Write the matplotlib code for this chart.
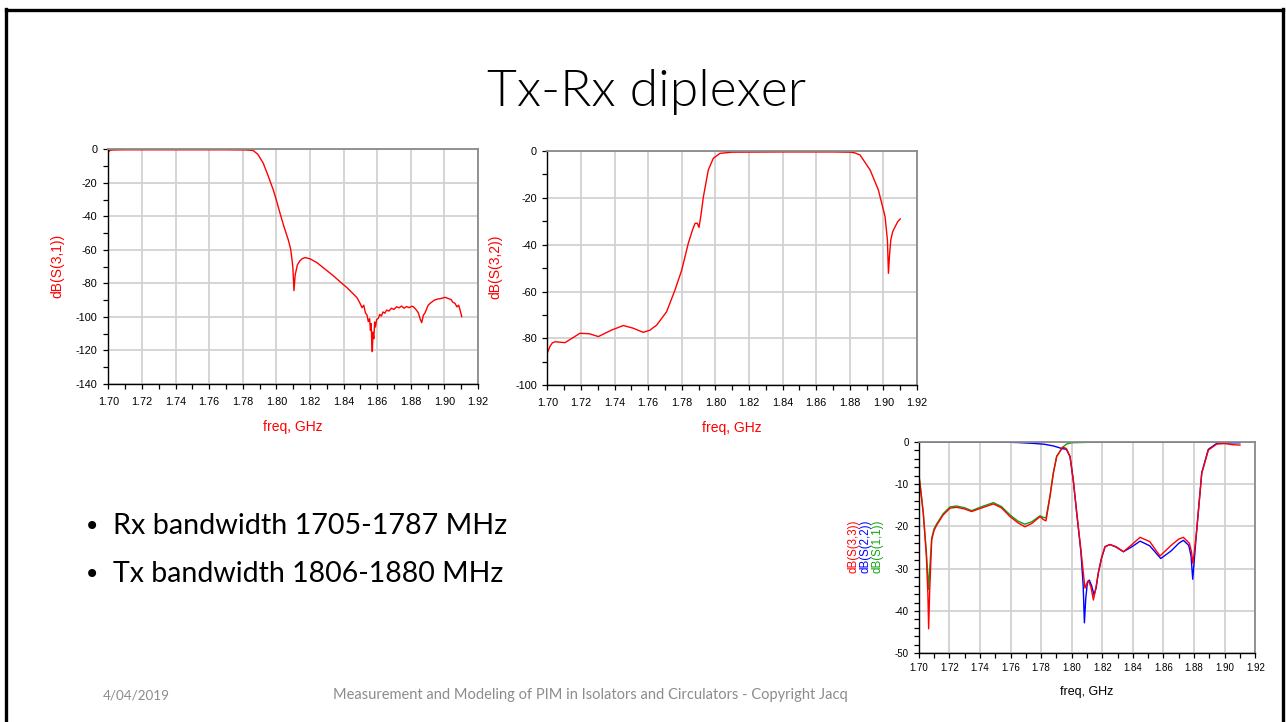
import matplotlib
matplotlib.use("Agg")
import matplotlib.pyplot as plt
from matplotlib.ticker import MultipleLocator, FormatStrFormatter
from matplotlib.lines import Line2D

# ---------------- data ----------------
title = "Tx-Rx diplexer"
bullets = ["Rx bandwidth 1705-1787 MHz", "Tx bandwidth 1806-1880 MHz"]
footer_date = "4/04/2019"
footer_text = "Measurement and Modeling of PIM in Isolators and Circulators - Copyright Jacq"

# Chart 1: dB(S(3,1))
f31 = [1.700, 1.701, 1.703, 1.710, 1.740, 1.770, 1.782, 1.785, 1.7863, 1.789, 1.7922,
       1.795, 1.7982, 1.8002, 1.8022, 1.8045, 1.8071, 1.8085, 1.8091, 1.8098, 1.8105,
       1.8112, 1.8125, 1.8140, 1.8155, 1.8171, 1.8200, 1.8240, 1.8290, 1.8340, 1.8379,
       1.8420, 1.8460, 1.8480, 1.8498, 1.8510, 1.8520, 1.8530, 1.8540, 1.8547, 1.8555,
       1.8560, 1.8564, 1.8568, 1.8571, 1.8575, 1.8580, 1.8585, 1.8590, 1.8597, 1.8607,
       1.8615, 1.8625, 1.8635, 1.8645, 1.8657, 1.8670, 1.8685, 1.8700, 1.8716, 1.8730,
       1.8745, 1.8760, 1.8775, 1.8790, 1.8805, 1.8815, 1.8830, 1.8845, 1.8855, 1.8865,
       1.8875, 1.8885, 1.8904, 1.8920, 1.8940, 1.8960, 1.8980, 1.9004, 1.9020, 1.9040,
       1.9050, 1.9063, 1.9075, 1.9085, 1.9095, 1.9103]
s31 = [-1.8, -0.6, -0.4, -0.3, -0.3, -0.3, -0.4, -0.6, -0.8, -3.0, -8.3,
       -15.5, -24.3, -31.0, -38.2, -46.0, -54.0, -59.5, -64.0, -70.0, -84.3,
       -75.0, -69.0, -66.5, -65.2, -64.6, -65.3, -67.5, -71.5, -75.5, -79.0,
       -82.5, -86.5, -88.5, -91.9, -94.5, -93.0, -97.5, -99.0, -102.8, -101.0,
       -108.0, -104.0, -115.0, -120.7, -109.0, -113.0, -103.0, -106.0, -101.5, -100.8,
       -98.5, -99.5, -97.0, -97.8, -95.9, -96.5, -94.8, -95.5, -93.9, -94.6,
       -93.5, -94.8, -93.8, -94.5, -93.6, -93.9, -95.5, -97.5, -101.0, -103.4,
       -99.0, -97.5, -92.9, -91.5, -90.0, -89.3, -89.0, -88.3, -88.9, -89.6,
       -91.2, -91.9, -94.0, -93.0, -96.5, -99.8]

# Chart 2: dB(S(3,2))
f32 = [1.700, 1.7015, 1.7030, 1.7046, 1.7075, 1.7105, 1.7150, 1.7194, 1.7250, 1.7304,
       1.7380, 1.7452, 1.7510, 1.7571, 1.7610, 1.7651, 1.7710, 1.7760, 1.7800, 1.7839,
       1.7865, 1.7879, 1.7892, 1.7903, 1.7915, 1.7929, 1.7958, 1.7988, 1.8028, 1.8100,
       1.8400, 1.8700, 1.8802, 1.8830, 1.8861, 1.8921, 1.8970, 1.9010, 1.9024, 1.9030,
       1.9037, 1.9044, 1.9055, 1.9070, 1.9085, 1.9100]
s32 = [-86.3, -83.5, -81.9, -81.4, -81.6, -81.8, -79.8, -77.8, -78.0, -79.2,
       -76.5, -74.5, -75.6, -77.4, -76.5, -74.3, -68.6, -59.3, -50.8, -39.4,
       -33.5, -30.9, -30.8, -32.6, -27.0, -19.5, -8.1, -3.1, -1.0, -0.5,
       -0.4, -0.4, -0.5, -0.8, -1.7, -8.1, -16.6, -28.0, -38.0, -52.2,
       -44.0, -38.0, -34.5, -32.3, -30.2, -29.0]

# Chart 3: dB(S(3,3)) red
f33 = [1.7000, 1.7015, 1.7030, 1.7050, 1.7060, 1.7065, 1.7072, 1.7085, 1.7100, 1.7118,
       1.7160, 1.7205, 1.7248, 1.7300, 1.7346, 1.7400, 1.7488, 1.7540, 1.7597, 1.7650,
       1.7695, 1.7740, 1.7793, 1.7815, 1.7832, 1.7858, 1.7880, 1.7902, 1.7941, 1.7965,
       1.7989, 1.8010, 1.8033, 1.8060, 1.8081, 1.8087, 1.8098, 1.8109, 1.8125, 1.8142,
       1.8158, 1.8174, 1.8195, 1.8218, 1.8250, 1.8290, 1.8338, 1.8390, 1.8447, 1.8510,
       1.8577, 1.8650, 1.8700, 1.8730, 1.8769, 1.8783, 1.8791, 1.8800, 1.8817, 1.8850,
       1.8893, 1.8948, 1.9000, 1.9050, 1.9100]
s33 = [-7.5, -12.0, -16.9, -27.0, -36.0, -44.2, -35.0, -23.2, -21.0, -19.7,
       -17.3, -15.7, -15.5, -15.9, -16.5, -15.8, -14.7, -15.6, -17.7, -19.2,
       -20.1, -19.3, -17.7, -18.4, -18.7, -13.0, -7.5, -3.5, -1.3, -1.6,
       -3.5, -9.0, -16.9, -25.5, -32.7, -34.6, -33.6, -32.9, -34.2, -37.4,
       -34.5, -31.0, -27.5, -24.8, -24.3, -24.8, -26.0, -24.4, -22.6, -23.6,
       -27.0, -24.5, -23.0, -22.6, -24.0, -26.0, -28.7, -26.5, -20.9, -7.5,
       -2.0, -0.55, -0.45, -0.7, -0.8]

# Chart 3: dB(S(2,2)) blue
f22 = [1.7000, 1.7400, 1.7575, 1.7650, 1.7750, 1.7820, 1.7880, 1.7935, 1.7965, 1.7989,
       1.8010, 1.8033, 1.8060, 1.8075, 1.8083, 1.8092, 1.8103, 1.8115, 1.8130, 1.8146,
       1.8160, 1.8174, 1.8195, 1.8218, 1.8250, 1.8290, 1.8338, 1.8390, 1.8447, 1.8510,
       1.8582, 1.8650, 1.8700, 1.8730, 1.8765, 1.8780, 1.8791, 1.8800, 1.8817, 1.8850,
       1.8893, 1.8948, 1.9000, 1.9100]
s22 = [-0.1, -0.1, -0.12, -0.2, -0.4, -0.6, -1.0, -1.6, -1.8, -3.5,
       -9.0, -16.9, -26.0, -34.0, -42.8, -37.0, -33.1, -32.7, -34.0, -36.2,
       -34.5, -31.0, -27.5, -24.8, -24.3, -24.9, -26.0, -24.9, -23.5, -24.6,
       -27.6, -25.8, -24.0, -23.3, -24.5, -27.0, -32.5, -28.5, -20.9, -7.3,
       -1.8, -0.4, -0.3, -0.25]

# Chart 3: dB(S(1,1)) green
f11 = [1.7000, 1.7015, 1.7030, 1.7050, 1.7060, 1.7065, 1.7072, 1.7085, 1.7100, 1.7118,
       1.7160, 1.7205, 1.7248, 1.7300, 1.7346, 1.7400, 1.7488, 1.7540, 1.7597, 1.7650,
       1.7695, 1.7740, 1.7793, 1.7815, 1.7832, 1.7858, 1.7880, 1.7902, 1.7941, 1.7967,
       1.8000, 1.8100, 1.9100]
s11 = [-7.5, -12.0, -16.9, -26.0, -32.0, -34.9, -30.0, -22.8, -20.6, -19.4,
       -17.0, -15.4, -15.2, -15.6, -16.3, -15.5, -14.4, -15.3, -17.3, -18.8,
       -19.5, -18.9, -17.5, -17.9, -18.0, -12.8, -7.3, -3.4, -1.3, -0.55,
       -0.25, -0.15, -0.12]

# ---------------- figure ----------------
W, H = 1286, 722
fig = plt.figure(figsize=(W / 100, H / 100), dpi=100)
fig.patch.set_facecolor("white")

RED = "#ff0000"
BLUE = "#0000ff"
GREEN = "#12a012"


def ax_px(l, t, r, b):
    return fig.add_axes([l / W, 1 - b / H, (r - l) / W, (b - t) / H])


def fx(x):
    return x / W


def fy(y):
    return 1 - y / H


def style(ax, ylo, yhi, ymaj, ymin, fs, xpad, ypad):
    ax.set_xlim(1.70, 1.92)
    ax.set_ylim(ylo, yhi)
    ax.xaxis.set_major_locator(MultipleLocator(0.02))
    ax.xaxis.set_minor_locator(MultipleLocator(0.01))
    ax.yaxis.set_major_locator(MultipleLocator(ymaj))
    ax.yaxis.set_minor_locator(MultipleLocator(ymin))
    ax.xaxis.set_major_formatter(FormatStrFormatter("%.2f"))
    ax.yaxis.set_major_formatter(FormatStrFormatter("%d"))
    ax.grid(True, which="major", color="#d2d2d2", lw=1.3)
    ax.set_axisbelow(True)
    ax.tick_params(which="both", direction="out", length=3.3, width=0.9,
                   labelsize=fs, colors="black",
                   labelfontfamily="Liberation Sans")
    ax.tick_params(axis="x", which="both", pad=xpad)
    ax.tick_params(axis="y", which="both", pad=ypad)
    for s in ("left", "bottom"):
        ax.spines[s].set_color("black")
        ax.spines[s].set_linewidth(1.0)
    for s in ("top", "right"):
        ax.spines[s].set_color("#8a8a8a")
        ax.spines[s].set_linewidth(1.3)
    ax.set_facecolor("white")


# Chart 1
ax1 = ax_px(108.3, 149.3, 478, 384)
style(ax1, -140, 0, 20, 10, 7.8, 5.8, 4.6)
ax1.plot(f31, s31, color=RED, lw=1.0)
fig.text(fx(57), fy(266), "dB(S(3,1))", rotation=90, color=RED, fontsize=10,
         family="Liberation Sans", ha="center", va="center")
fig.text(fx(293), fy(427), "freq, GHz", color=RED, fontsize=10,
         family="Liberation Sans", ha="center", va="center")

# Chart 2
ax2 = ax_px(547.3, 151, 917, 385.3)
style(ax2, -100, 0, 20, 10, 7.8, 5.8, 4.2)
ax2.plot(f32, s32, color=RED, lw=1.0)
fig.text(fx(495), fy(267), "dB(S(3,2))", rotation=90, color=RED, fontsize=10,
         family="Liberation Sans", ha="center", va="center")
fig.text(fx(732), fy(428), "freq, GHz", color=RED, fontsize=10,
         family="Liberation Sans", ha="center", va="center")

# Chart 3
ax3 = ax_px(918.7, 441.7, 1255.3, 653.3)
style(ax3, -50, 0, 10, 2, 7.0, 3.7, 4.0)
ax3.plot(f11, s11, color=GREEN, lw=1.0)
ax3.plot(f22, s22, color=BLUE, lw=1.0)
ax3.plot(f33, s33, color=RED, lw=1.0)
for xx, txt, col in [(853, "dB(S(3,3))", RED), (865, "dB(S(2,2))", BLUE),
                     (877, "dB(S(1,1))", GREEN)]:
    fig.text(fx(xx), fy(546), txt, rotation=90, color=col, fontsize=8.3,
             family="Liberation Sans", ha="center", va="center")
fig.text(fx(1087), fy(692), "freq, GHz", color="black", fontsize=9,
         family="Liberation Sans", ha="center", va="center")

# ---------------- slide text ----------------
renderer = fig.canvas.get_renderer()


def fit_text(x0, x1, yc, s, fs, **kw):
    t = fig.text(fx(x0), fy(yc), s, fontsize=fs, ha="left", va="center", **kw)
    w = t.get_window_extent(renderer=renderer).width
    t.set_fontsize(fs * (x1 - x0) / w)
    return t


fit_text(487, 805, 92, title, 40, family="Lato", weight=320, color="black")
fig.text(fx(92), fy(527), "\u2022", fontsize=20, family="DejaVu Sans",
         ha="center", va="center", color="black")
fig.text(fx(92), fy(575), "\u2022", fontsize=20, family="DejaVu Sans",
         ha="center", va="center", color="black")
fit_text(113, 507, 526, bullets[0], 22, family="Lato", color="black")
fit_text(113, 503, 574, bullets[1], 22, family="Lato", color="black")
fit_text(103, 170, 695, footer_date, 10, family="Lato", color="#8c8c8c")
fit_text(333, 843, 695, footer_text, 10, family="Lato", color="#8c8c8c")

# slide frame
frame = [((6, 6), (9, 760)), ((6, 1283), (9.5, 9.5)), ((1283, 1283), (9, 760))]
for xs, ys in frame:
    fig.add_artist(Line2D([fx(xs[0]), fx(xs[1])], [fy(ys[0]), fy(ys[1])],
                          color="black", lw=2.4, transform=fig.transFigure))

fig.savefig("out.png", dpi=100, facecolor="white")
